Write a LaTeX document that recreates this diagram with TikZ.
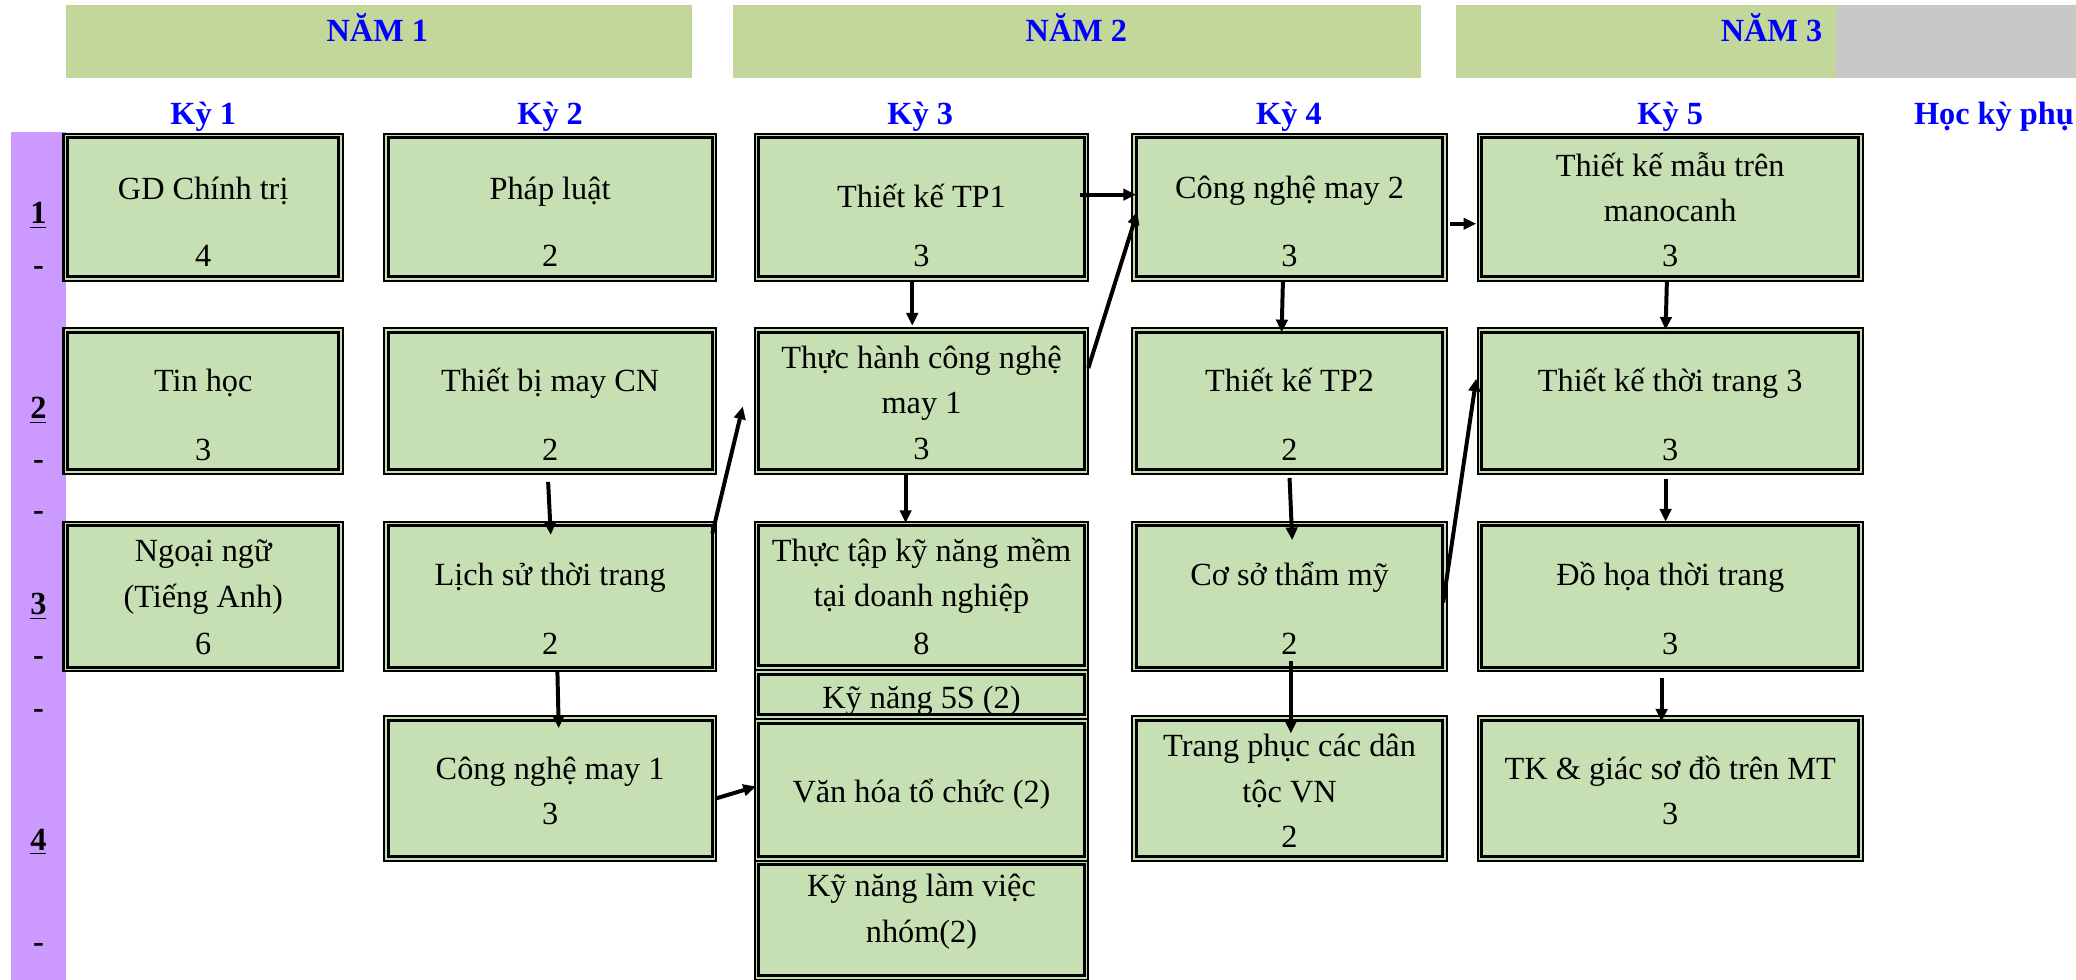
\documentclass[tikz,border=0pt]{standalone}
\usepackage{fontspec}
\setmainfont{Liberation Serif}
\usetikzlibrary{arrows.meta}
\definecolor{bannerg}{HTML}{C4D79B}
\definecolor{boxg}{HTML}{C6E0B4}
\definecolor{purp}{HTML}{CC99FF}
\definecolor{grayb}{HTML}{C8C8C8}
\definecolor{hblue}{HTML}{0000FF}
\begin{document}
\begin{tikzpicture}[x=0.5pt,y=-0.5pt,
  box/.style={draw, line width=0.8pt, fill=boxg, inner sep=0pt, outer sep=0pt},
  innerb/.style={line width=1.15pt},
  txt/.style={anchor=base, inner sep=0pt, font=\fontsize{12.2}{14}\selectfont},
  hdr/.style={anchor=base, inner sep=0pt, font=\fontsize{12.2}{14}\selectfont\bfseries, text=hblue},
  side/.style={anchor=base, inner sep=0pt, font=\fontsize{12.2}{14}\selectfont\bfseries},
  sidedash/.style={anchor=center, inner sep=0pt, font=\fontsize{12.2}{14}\selectfont\bfseries},
  arr/.style={line width=1.5pt, -{Triangle[length=4.8pt,width=4.3pt]}}]
\useasboundingbox (0,0) rectangle (1568,740);
% banners
\fill[bannerg] (50,4) rectangle (523,59);
\fill[bannerg] (554,4) rectangle (1073,59);
\fill[bannerg] (1100,4) rectangle (1387,59);
\fill[grayb] (1387,4) rectangle (1568,59);
\node[hdr] (y1) at (285,31.5) {NĂM 1};
\node[hdr] (y2) at (813,31.5) {NĂM 2};
\node[hdr] (y3) at (1338,31.5) {NĂM 3};
% semester headers
\node[hdr] (k1) at (153.5,94) {Kỳ 1};
\node[hdr] (k2) at (415.5,94) {Kỳ 2};
\node[hdr] (k3) at (695,94) {Kỳ 3};
\node[hdr] (k4) at (973.5,94) {Kỳ 4};
\node[hdr] (k5) at (1261.5,94) {Kỳ 5};
\node[hdr] (k6) at (1506,94) {Học kỳ phụ};
% purple strip
\fill[purp] (8,100) rectangle (50,740);
\node[side] (n1) at (29,169) {\underline{1}};
\node[side] (n2) at (29,316) {\underline{2}};
\node[side] (n3) at (29,464) {\underline{3}};
\node[side] (n4) at (29,642) {\underline{4}};
\foreach \d/\yy in {d1/205,d2/351,d3/390,d4/499,d5/539,d6/716}
  \node[sidedash] (\d) at (29,\yy) {-};
% boxes
\foreach \n/\cx/\cy/\w/\h in {
  c11/153.5/156.5/211/111, c12/153.5/303/211/110, c13/153.5/450.5/211/113,
  c21/415.5/156.5/251/111, c22/415.5/303/251/110, c23/415.5/450.5/251/113, c24/415.5/595.5/251/109,
  c31/696/156.5/252/111, c32/696/303/252/110, c33/696/450/252/112,
  s1/696/524.5/252/37, s2/696/596.5/252/107, s3/696/695/252/90,
  c41/974/156.5/238/111, c42/974/303/238/110, c43/974/450.5/238/113, c44/974/595.5/238/109,
  c51/1261.5/156.5/291/111, c52/1261.5/303/291/110, c53/1261.5/450.5/291/113, c54/1261.5/595.5/291/109}
  \node[box, minimum width=\w*0.5pt, minimum height=\h*0.5pt] (\n) at (\cx,\cy) {};
\foreach \n in {c11,c12,c13,c21,c22,c23,c24,c31,c32,c33,s1,s2,s3,c41,c42,c43,c44,c51,c52,c53,c54}
  \draw[innerb] ([shift={(1.6pt,-1.6pt)}]\n.north west) rectangle ([shift={(-1.6pt,1.6pt)}]\n.south east);
% texts column 1
\node[txt] (t11a) at (153.5,151) {GD Chính trị};
\node[txt] (t11b) at (153.5,201) {4};
\node[txt] (t12a) at (153.5,296) {Tin học};
\node[txt] (t12b) at (153.5,348) {3};
\node[txt] (t13a) at (153.5,424) {Ngoại ngữ};
\node[txt] (t13b) at (153.5,459) {(Tiếng Anh)};
\node[txt] (t13c) at (153.5,494) {6};
% column 2
\node[txt] (t21a) at (415.5,151) {Pháp luật};
\node[txt] (t21b) at (415.5,201) {2};
\node[txt] (t22a) at (415.5,296) {Thiết bị may CN};
\node[txt] (t22b) at (415.5,348) {2};
\node[txt] (t23a) at (415.5,442) {Lịch sử thời trang};
\node[txt] (t23b) at (415.5,494) {2};
\node[txt] (t24a) at (415.5,589) {Công nghệ may 1};
\node[txt] (t24b) at (415.5,623) {3};
% column 3
\node[txt] (t31a) at (696,157) {Thiết kế TP1};
\node[txt] (t31b) at (696,201) {3};
\node[txt] (t32a) at (696,278) {Thực hành công nghệ};
\node[txt] (t32b) at (696,312) {may 1};
\node[txt] (t32c) at (696,347) {3};
\node[txt] (t33a) at (696,424) {Thực tập kỹ năng mềm};
\node[txt] (t33b) at (696,458) {tại doanh nghiệp};
\node[txt] (t33c) at (696,494) {8};
\node[txt] (ts1) at (696,535) {Kỹ năng 5S (2)};
\node[txt] (ts2) at (696,606) {Văn hóa tổ chức (2)};
\node[txt] (ts3a) at (696,677) {Kỹ năng làm việc};
\node[txt] (ts3b) at (696,712) {nhóm(2)};
% column 4
\node[txt] (t41a) at (974,150) {Công nghệ may 2};
\node[txt] (t41b) at (974,201) {3};
\node[txt] (t42a) at (974,296) {Thiết kế TP2};
\node[txt] (t42b) at (974,348) {2};
\node[txt] (t43a) at (974,442) {Cơ sở thẩm mỹ};
\node[txt] (t43b) at (974,494) {2};
\node[txt] (t44a) at (974,571) {Trang phục các dân};
\node[txt] (t44b) at (974,606) {tộc VN};
\node[txt] (t44c) at (974,640) {2};
% column 5
\node[txt] (t51a) at (1261.5,133) {Thiết kế mẫu trên};
\node[txt] (t51b) at (1261.5,167) {manocanh};
\node[txt] (t51c) at (1261.5,201) {3};
\node[txt] (t52a) at (1261.5,296) {Thiết kế thời trang 3};
\node[txt] (t52b) at (1261.5,348) {3};
\node[txt] (t53a) at (1261.5,442) {Đồ họa thời trang};
\node[txt] (t53b) at (1261.5,494) {3};
\node[txt] (t54a) at (1261.5,589) {TK \& giác sơ đồ trên MT};
\node[txt] (t54b) at (1261.5,623) {3};
% arrows
\draw[arr] ([shift={(-6,-9.5)}]c31.east) -- ([shift={(3,-9.5)}]c41.west);
\draw[arr] ([shift={(0,-25)}]c32.east) -- ([shift={(4,3.5)}]c41.west);
\draw[arr] ([shift={(-7,0)}]c31.south) -- ([shift={(-7,-2)}]c32.north);
\draw[arr] ([shift={(-12,0)}]c32.south) -- ([shift={(-12,1)}]c33.north);
\draw[arr] ([shift={(-1.5,6)}]c22.south) -- ([shift={(0.5,10)}]c23.north);
\draw[arr] ([shift={(-3,-47.5)}]c23.east) -- ([shift={(-9,4)}]c32.west);
\draw[arr] ([shift={(5.5,0)}]c23.south) -- ([shift={(6.5,9)}]c24.north);
\draw[arr] ([shift={(0,7.5)}]c24.east) -- ([shift={(1,-2.5)}]s2.west);
\draw[arr] ([shift={(-5,0)}]c41.south) -- ([shift={(-6,3)}]c42.north);
\draw[arr] ([shift={(0,3)}]c42.south) -- ([shift={(2,14)}]c43.north);
\draw[arr] ([shift={(1,-8)}]c43.south) -- ([shift={(1,13)}]c44.north);
\draw[arr] ([shift={(2,12.5)}]c41.east) -- ([shift={(-1,12.5)}]c51.west);
\draw[arr] ([shift={(-3,4.5)}]c43.east) -- ([shift={(-1,-17)}]c52.west);
\draw[arr] ([shift={(-2.5,0)}]c51.south) -- ([shift={(-3.5,1)}]c52.north);
\draw[arr] ([shift={(-3.5,4)}]c52.south) -- ([shift={(-3.5,0)}]c53.north);
\draw[arr] ([shift={(-6.5,5)}]c53.south) -- ([shift={(-6.5,4)}]c54.north);
\end{tikzpicture}
\end{document}
